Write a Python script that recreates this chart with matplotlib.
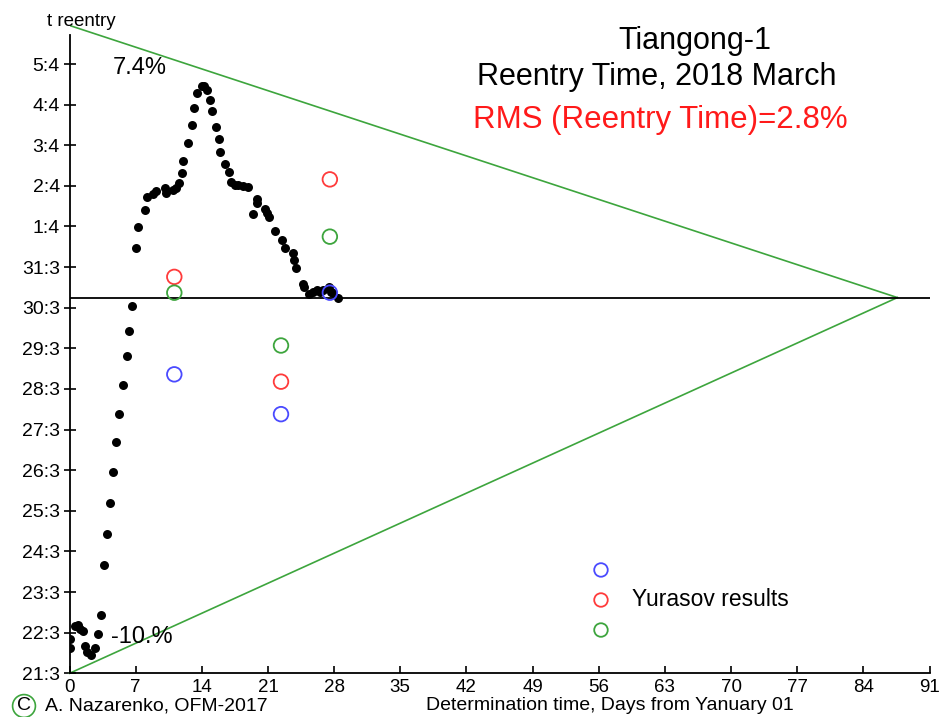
import matplotlib
matplotlib.use("Agg")
import matplotlib.pyplot as plt

plt.rcParams['font.family'] = ['Liberation Sans', 'DejaVu Sans']

# ---- data (x: days from Jan 01, y: reentry date index; 21 = 21 March ... 36 = 5 April)
det_days = [0.0, 0.0, 0.58, 0.90, 1.16, 1.43, 1.64, 1.90, 2.24, 2.65, 2.98, 3.33, 3.62,
            3.94, 4.25, 4.55, 4.92, 5.19, 5.63, 6.11, 6.30, 6.61, 7.04, 7.25, 7.99, 8.17,
            8.87, 9.10, 10.11, 10.21, 10.98, 11.24, 11.62, 11.87, 12.04, 12.57, 12.96,
            13.17, 13.46, 13.99, 14.20, 14.60, 14.84, 15.05, 15.53, 15.79, 15.96, 16.46,
            16.85, 17.09, 17.51, 17.86, 18.39, 18.92, 19.45, 19.81, 19.87, 20.69, 20.87,
            21.14, 21.75, 22.46, 22.84, 23.65, 23.76, 23.94, 24.71, 24.78, 25.38, 25.80,
            26.19, 26.51, 26.86, 27.51, 27.67, 27.92, 28.44]
reentry_pred = [21.84, 21.62, 22.16, 22.18, 22.09, 22.03, 21.67, 21.52, 21.45, 21.62, 21.96,
                22.44, 23.67, 24.43, 25.20, 25.96, 26.69, 27.38, 28.11, 28.80, 29.43, 30.04,
                31.46, 31.98, 32.41, 32.73, 32.80, 32.87, 32.94, 32.83, 32.90, 32.94, 33.06,
                33.32, 33.62, 34.05, 34.49, 34.92, 35.29, 35.47, 35.46, 35.36, 35.11, 34.85,
                34.46, 34.15, 33.84, 33.54, 33.33, 33.10, 33.03, 33.02, 33.00, 32.96, 32.31,
                32.67, 32.59, 32.43, 32.32, 32.24, 31.90, 31.67, 31.46, 31.35, 31.17, 30.98,
                30.58, 30.52, 30.35, 30.39, 30.44, 30.39, 30.44, 30.52, 30.39, 30.36, 30.25]

yurasov_days = [11.09, 22.38, 27.55]
yurasov_blue = [28.36, 27.38, 30.37]
yurasov_red = [30.76, 28.18, 33.16]
yurasov_green = [30.37, 29.07, 31.75]

actual_reentry = 30.25
apex_day = 87.6
upper_start = 36.95
lower_start = 21.0

x_ticks = [0, 7, 14, 21, 28, 35, 42, 49, 56, 63, 70, 77, 84, 91]
y_ticks = list(range(21, 37))
y_ticklabels = ["21:3", "22:3", "23:3", "24:3", "25:3", "26:3", "27:3", "28:3", "29:3",
                "30:3", "31:3", "1:4", "2:4", "3:4", "4:4", "5:4"]

GREEN = '#3da53d'
BLUE = '#4a4aff'
RED = '#ff3b3b'

W, H = 941, 717
fig = plt.figure(figsize=(W / 100, H / 100), dpi=100)
ax = fig.add_axes([69.5 / W, (H - 673.3) / H, 860 / W, 649.9 / H])
ax.set_xlim(0, 91)
ax.set_ylim(21, 37)

for s in ('top', 'right'):
    ax.spines[s].set_visible(False)
ax.spines['left'].set_bounds(21, 36.72)
ax.spines['left'].set_linewidth(1.3)
ax.spines['bottom'].set_linewidth(1.3)

ax.set_xticks(x_ticks)
ax.set_xticklabels([str(t) for t in x_ticks], fontsize=13.5,
                   family=['Liberation Sans Narrow', 'Liberation Sans', 'DejaVu Sans'])
ax.set_yticks(y_ticks)
ax.set_yticklabels(y_ticklabels, fontsize=14)
ax.tick_params(axis='x', direction='in', length=5, width=1.2, pad=4)
ax.tick_params(axis='y', direction='inout', length=8, width=1.2, pad=3)

# envelope and reference line
ax.plot([0, apex_day], [upper_start, actual_reentry], color=GREEN, lw=1.2, zorder=2)
ax.plot([0, apex_day], [lower_start, actual_reentry], color=GREEN, lw=1.2, zorder=2, clip_on=False)
ax.plot([0, 91], [actual_reentry, actual_reentry], color='black', lw=1.3, zorder=2)

# predictions
ax.scatter(det_days, reentry_pred, s=42, color='black', zorder=3, linewidths=0)

# Yurasov results
for vals, col in ((yurasov_blue, BLUE), (yurasov_red, RED), (yurasov_green, GREEN)):
    ax.scatter(yurasov_days, vals, s=110, facecolors='none', edgecolors=col,
               linewidths=1.3, zorder=4)

# legend-like marks
for yy, col in ((0.159, BLUE), (0.1128, RED), (0.0666, GREEN)):
    ax.scatter([0.618], [yy], s=95, facecolors='none', edgecolors=col, linewidths=1.3,
               transform=ax.transAxes, zorder=4, clip_on=False)
ax.text(0.654, 0.1128, "Yurasov results", transform=ax.transAxes, fontsize=16.5,
        ha='left', va='center')

# annotations
fig.text(47 / W, 1 - 22 / H, "t reentry", fontsize=13.5, ha='left', va='center')
fig.text(140 / W, 1 - 68 / H, "7.4%", fontsize=17, ha='center', va='center')
fig.text(142 / W, 1 - 637 / H, "-10.%", fontsize=17, ha='center', va='center')

fig.text(695 / W, 1 - 41 / H, "Tiangong-1", fontsize=22, ha='center', va='center')
fig.text(657 / W, 1 - 77 / H, "Reentry Time, 2018 March", fontsize=22, ha='center', va='center')
fig.text(660 / W, 1 - 120 / H, "RMS (Reentry Time)=2.8%", fontsize=22.5, ha='center',
         va='center', color='#ff1a1a')

fig.text(24 / W, 1 - 706 / H, "C", fontsize=14, ha='center', va='center',
         bbox=dict(boxstyle='circle,pad=0.15', fc='none', ec=GREEN, lw=1.2))
fig.text(45 / W, 1 - 706 / H, "A. Nazarenko, OFM-2017", fontsize=14, ha='left', va='center')
fig.text(610 / W, 1 - 706 / H, "Determination time, Days from Yanuary 01", fontsize=14,
         ha='center', va='center')

fig.savefig("out.png", dpi=100)
